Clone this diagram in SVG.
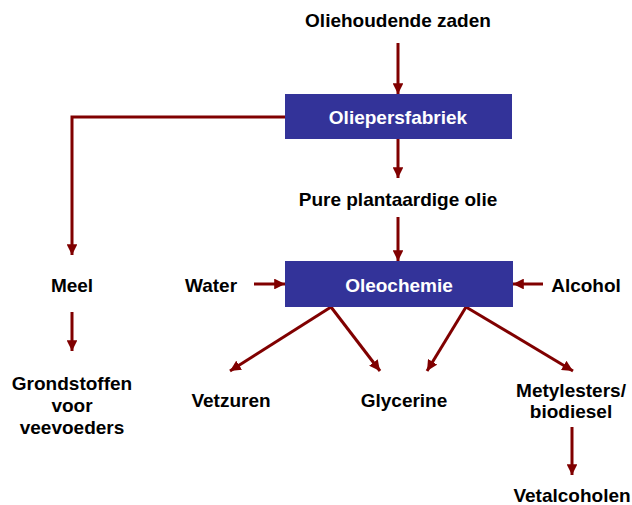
<svg xmlns="http://www.w3.org/2000/svg" width="632" height="505" viewBox="0 0 632 505">
  <style>
    .lbl { font-family: "Liberation Sans", Arial, sans-serif; font-weight: bold; font-size: 19px; fill: #000; text-anchor: middle; }
    .boxtxt { font-family: "Liberation Sans", Arial, sans-serif; font-weight: bold; font-size: 19px; fill: #fff; text-anchor: middle; }
    .box { fill: #333399; }
    .flow { stroke: #800000; stroke-width: 3; fill: none; marker-end: url(#head); }
  </style>
  <defs>
    <marker id="head" viewBox="0 0 10 10" refX="10" refY="5" markerWidth="3.6" markerHeight="3.6" markerUnits="strokeWidth" orient="auto">
      <path d="M0,0 L10,5 L0,10 z" fill="#800000"/>
    </marker>
  </defs>
  <rect width="632" height="505" fill="#fff"/>

  <g id="connectors">
    <line class="flow" x1="398" y1="43" x2="398" y2="94"/>
    <polyline class="flow" points="285,117 72,117 72,255"/>
    <line class="flow" x1="398" y1="139" x2="398" y2="178"/>
    <line class="flow" x1="398" y1="217" x2="398" y2="261"/>
    <line class="flow" x1="254" y1="284" x2="285" y2="284"/>
    <line class="flow" x1="543" y1="284" x2="513" y2="284"/>
    <line class="flow" x1="72" y1="312" x2="72" y2="351"/>
    <line class="flow" x1="331" y1="307" x2="230" y2="371"/>
    <line class="flow" x1="331" y1="307" x2="380" y2="371"/>
    <line class="flow" x1="466" y1="307" x2="427" y2="371"/>
    <line class="flow" x1="466" y1="307" x2="573" y2="371"/>
    <line class="flow" x1="572" y1="427" x2="572" y2="475"/>
  </g>

  <g id="zaden"><text class="lbl" x="398" y="27">Oliehoudende zaden</text></g>
  <g id="oliepersfabriek">
    <rect class="box" x="285" y="94" width="227" height="45"/>
    <text class="boxtxt" x="398" y="124">Oliepersfabriek</text>
  </g>
  <g id="plantaardige-olie"><text class="lbl" x="398" y="206">Pure plantaardige olie</text></g>
  <g id="oleochemie">
    <rect class="box" x="285" y="261" width="228" height="46"/>
    <text class="boxtxt" x="399" y="292">Oleochemie</text>
  </g>
  <g id="water"><text class="lbl" x="211" y="292">Water</text></g>
  <g id="alcohol"><text class="lbl" x="586" y="292">Alcohol</text></g>
  <g id="meel"><text class="lbl" x="72" y="292">Meel</text></g>
  <g id="grondstoffen">
    <text class="lbl" x="72" y="390">Grondstoffen</text>
    <text class="lbl" x="72" y="412">voor</text>
    <text class="lbl" x="72" y="434">veevoeders</text>
  </g>
  <g id="vetzuren"><text class="lbl" x="231" y="407">Vetzuren</text></g>
  <g id="glycerine"><text class="lbl" x="404" y="407">Glycerine</text></g>
  <g id="metylesters">
    <text class="lbl" x="571" y="397">Metylesters/</text>
    <text class="lbl" x="571" y="418">biodiesel</text>
  </g>
  <g id="vetalcoholen"><text class="lbl" x="572" y="502">Vetalcoholen</text></g>
</svg>
